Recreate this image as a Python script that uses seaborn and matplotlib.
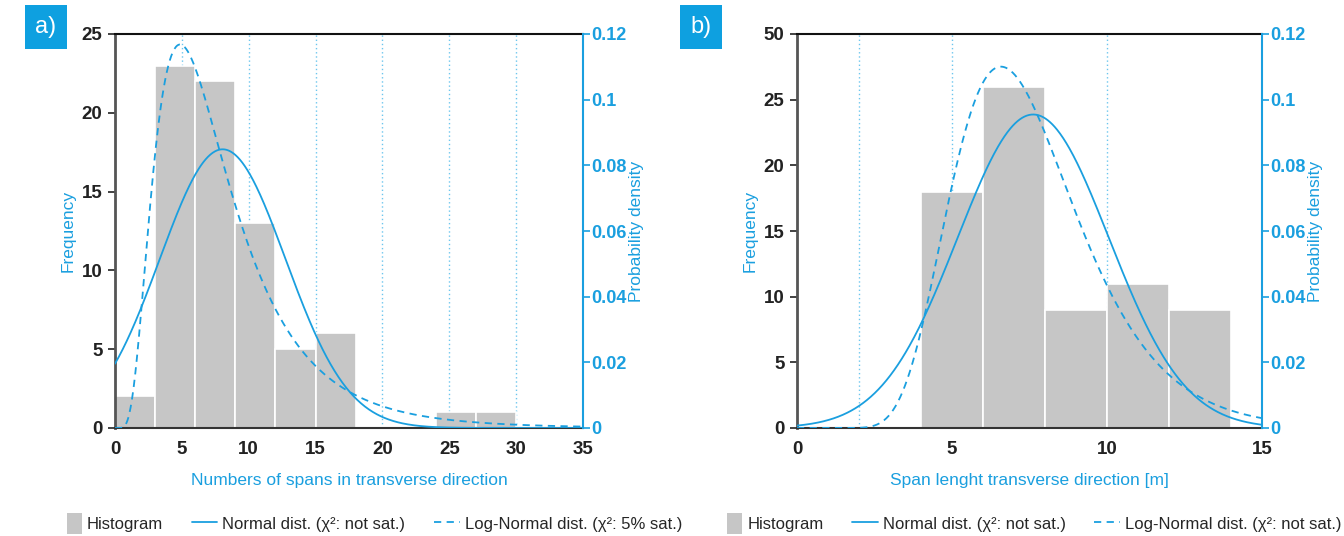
#!/usr/bin/env python3
"""
Histograms of transverse spans with fitted Normal / Log-Normal curves (two panels)
"""

import numpy as np
import pandas as pd
import matplotlib
matplotlib.use("Agg")
import matplotlib.pyplot as plt
import seaborn as sns
from matplotlib.patches import Patch, Rectangle
from matplotlib.lines import Line2D
from matplotlib.legend_handler import HandlerPatch

# ---- data ----
# panel a: number of spans, bins of width 3
a_edges = [0, 3, 6, 9, 12, 15, 18, 21, 24, 27, 30]
a_counts = [2, 23, 22, 13, 5, 6, 0, 0, 1, 1]
a_normal = (8.05, 4.7)        # mean, std
a_lognormal = (1.93, 0.59)    # mu, sigma of ln(x)
a_xticks = [0, 5, 10, 15, 20, 25, 30, 35]
a_grid = [5, 10, 15, 20, 25, 30]
a_yticks = [0, 5, 10, 15, 20, 25]
a_yticklabels = ["0", "5", "10", "15", "20", "25"]

# panel b: span length [m], bins of width 2
b_edges = [4, 6, 8, 10, 12, 14]
b_counts = [18, 26, 9, 11, 9]
b_normal = (7.62, 2.44)
b_lognormal = (1.978, 0.307)
b_xticks = [0, 5, 10, 15]
b_grid = [2, 5, 10]
b_yticks = [0, 5, 10, 15, 20, 25, 30]
b_yticklabels = ["0", "5", "10", "15", "20", "25", "50"]

dens_ticks = [0, 0.02, 0.04, 0.06, 0.08, 0.10, 0.12]
dens_labels = ["0", "0.02", "0.04", "0.06", "0.08", "0.1", "0.12"]

BLUE = "#1a9fdf"
LIGHTBLUE = "#6cc6ee"
GRAY = "#c6c6c6"


def normal_pdf(x, m, s):
    return np.exp(-(x - m) ** 2 / (2 * s ** 2)) / (s * np.sqrt(2 * np.pi))


def lognormal_pdf(x, mu, s):
    out = np.zeros_like(x)
    pos = x > 0
    out[pos] = np.exp(-(np.log(x[pos]) - mu) ** 2 / (2 * s ** 2)) / (x[pos] * s * np.sqrt(2 * np.pi))
    return out


class NarrowBox(HandlerPatch):
    """small upright grey box as legend key, right-aligned next to its text"""
    def create_artists(self, legend, orig_handle, xdescent, ydescent, width, height,
                       fontsize, trans):
        w, h = 11, 15.5
        p = Rectangle((width - w - xdescent, -ydescent + (height - h) / 2), w, h,
                      facecolor=orig_handle.get_facecolor(), edgecolor="none",
                      transform=trans)
        return [p]


def draw_panel(fig, rect, edges, counts, norm, logn, xlim, xticks, grid, ylim,
               yticks, yticklabels, curve_scale, xlabel, tag, logn_label, legend_x):
    ax = fig.add_axes(rect)
    ax.set_facecolor("white")

    for g in grid:
        ax.axvline(g, color=LIGHTBLUE, linestyle=(0, (1, 2)), linewidth=1, zorder=0)

    centers = [(lo + hi) / 2 for lo, hi in zip(edges[:-1], edges[1:])]
    df = pd.DataFrame({"x": centers, "w": counts})
    sns.histplot(data=df, x="x", weights="w", bins=list(edges), ax=ax, color=GRAY,
                 edgecolor="white", linewidth=1.2, alpha=1, zorder=2)

    xs = np.linspace(xlim[0], xlim[1], 600)
    ax.plot(xs, curve_scale * normal_pdf(xs, *norm), color=BLUE, lw=1.3, zorder=3)
    ax.plot(xs, curve_scale * lognormal_pdf(xs, *logn), color=BLUE, lw=1.3,
            linestyle=(0, (4, 3)), zorder=3)

    ax.set_xlim(*xlim)
    ax.set_ylim(*ylim)
    ax.set_xticks(xticks)
    ax.set_yticks(yticks)
    ax.set_yticklabels(yticklabels)
    ax.tick_params(axis="both", direction="out", length=5, width=1.2,
                   labelsize=13.5, colors="#222222", pad=4)
    for lab in ax.get_xticklabels() + ax.get_yticklabels():
        lab.set_fontweight("bold")
    ax.set_xlabel(xlabel, color=BLUE, fontsize=12.5, labelpad=11)
    ax.set_ylabel("")
    ax.grid(False)

    ax.spines["left"].set_color("#555555")
    ax.spines["left"].set_linewidth(2)
    ax.spines["bottom"].set_color("#333333")
    ax.spines["bottom"].set_linewidth(1.5)
    ax.spines["top"].set_color("#111111")
    ax.spines["top"].set_linewidth(1.5)
    ax.spines["right"].set_visible(False)

    ax.text(-0.1, 0.5, "Frequency", rotation=90, transform=ax.transAxes,
            color=BLUE, fontsize=12.5, ha="center", va="center")

    ax2 = ax.twinx()
    ax2.set_ylim(0, 0.12)
    ax2.set_yticks(dens_ticks)
    ax2.set_yticklabels(dens_labels)
    ax2.tick_params(axis="y", direction="out", length=5, width=1.2,
                    labelsize=13, colors=BLUE, pad=1)
    for lab in ax2.get_yticklabels():
        lab.set_fontweight("bold")
    for s in ["left", "top", "bottom"]:
        ax2.spines[s].set_visible(False)
    ax2.spines["right"].set_color(BLUE)
    ax2.spines["right"].set_linewidth(1.5)
    ax2.grid(False)
    ax2.text(1.115, 0.5, "Probability density", rotation=90, transform=ax2.transAxes,
             color=BLUE, fontsize=12.5, ha="center", va="center")

    # panel tag in blue box
    fig.text(tag[1], tag[2], tag[0], color="white", fontsize=17, ha="center", va="center",
             bbox=dict(boxstyle="square,pad=0.45", facecolor="#0ea0e0", edgecolor="none"))

    handles = [
        Patch(facecolor=GRAY, edgecolor="none"),
        Line2D([], [], color=BLUE, lw=1.3),
        Line2D([], [], color=BLUE, lw=1.3, linestyle=(0, (4, 3))),
    ]
    labels = ["Histogram", "Normal dist. (χ²: not sat.)", logn_label]
    fig.legend(handles, labels, loc="center",
               bbox_to_anchor=(legend_x, 0.023), ncol=3,
               frameon=False, fontsize=12, handlelength=1.55, handleheight=1.4,
               columnspacing=1.7, handletextpad=0.3,
               handler_map={Patch: NarrowBox()})
    return ax


def main():
    sns.set_theme(style="white")
    plt.rcParams["font.family"] = ["Liberation Sans", "DejaVu Sans"]

    fig = plt.figure(figsize=(13.44, 5.36), dpi=100)

    draw_panel(fig, [115 / 1344, 1 - 428 / 536, 468 / 1344, 394 / 536],
               a_edges, a_counts, a_normal, a_lognormal, (0, 35), a_xticks, a_grid,
               (0, 25), a_yticks, a_yticklabels, 25 / 0.12,
               "Numbers of spans in transverse direction", ("a)", 46 / 1344, 1 - 27 / 536),
               "Log-Normal dist. (χ²: 5% sat.)", 369 / 1344)

    draw_panel(fig, [797 / 1344, 1 - 428 / 536, 465 / 1344, 394 / 536],
               b_edges, b_counts, b_normal, b_lognormal, (0, 15), b_xticks, b_grid,
               (0, 30), b_yticks, b_yticklabels, sum(b_counts) * 2,
               "Span lenght transverse direction [m]", ("b)", 701 / 1344, 1 - 27 / 536),
               "Log-Normal dist. (χ²: not sat.)", 1029 / 1344)

    fig.savefig("out.png", dpi=100, facecolor="white")


if __name__ == "__main__":
    main()
